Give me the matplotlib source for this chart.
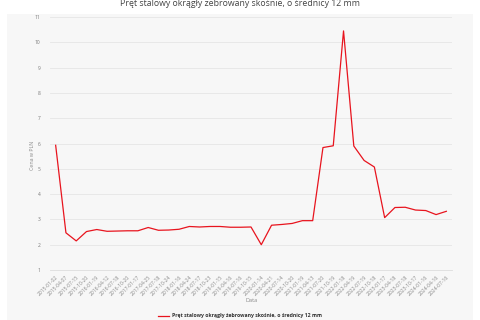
import matplotlib
matplotlib.use("Agg")
import matplotlib.pyplot as plt

dates = [
    "2015-01-02", "2015-04-07", "2015-07-15", "2015-10-20", "2016-01-19",
    "2016-04-12", "2016-07-18", "2016-10-20", "2017-01-17", "2017-04-25",
    "2017-07-18", "2017-10-24", "2018-01-16", "2018-04-24", "2018-07-17",
    "2018-10-23", "2019-01-15", "2019-04-16", "2019-07-16", "2019-10-15",
    "2020-01-14", "2020-04-21", "2020-07-14", "2020-10-20", "2021-01-19",
    "2021-04-13", "2021-07-20", "2021-10-19", "2022-01-18", "2022-04-19",
    "2022-07-19", "2022-10-18", "2023-01-17", "2023-04-18", "2023-07-18",
    "2023-10-17", "2024-01-16", "2024-04-16", "2024-07-16",
]
prices = [
    5.93, 2.47, 2.15, 2.52, 2.60, 2.53, 2.54, 2.55, 2.55, 2.68,
    2.57, 2.58, 2.61, 2.72, 2.70, 2.72, 2.72, 2.69, 2.69, 2.70,
    2.00, 2.77, 2.80, 2.84, 2.95, 2.95, 5.84, 5.91, 10.45, 5.90,
    5.33, 5.07, 3.07, 3.47, 3.48, 3.37, 3.35, 3.19, 3.32,
]
series_name = "Pręt stalowy okrągły żebrowany skośnie, o średnicy 12 mm"
title = "Pręt stalowy okrągły żebrowany skośnie, o średnicy 12 mm"
yticks = list(range(1, 12))

plt.rcParams['font.family'] = ['Open Sans', 'DejaVu Sans']

fig = plt.figure(figsize=(4.8, 3.2), dpi=100)
fig.patch.set_facecolor('white')
# gray panel
panel = fig.add_axes([7/480, 0, 466/480, 1 - 14/320])
panel.set_facecolor('#f7f7f7')
panel.set_xticks([]); panel.set_yticks([])
for s in panel.spines.values():
    s.set_visible(False)
panel.set_zorder(0)

ax = fig.add_axes([50/480, 1 - 270/320, 402/480, 253/320])
ax.set_zorder(1)
ax.patch.set_alpha(0)
x = list(range(len(dates)))
line, = ax.plot(x, prices, color='#e8141e', lw=0.9, label=series_name)
ax.set_xlim(-0.55, len(dates) - 0.45)
ax.set_ylim(1, 11)
ax.set_yticks(yticks)
ax.set_yticklabels([str(v) for v in yticks], fontsize=3.5, color='#777777')
ax.set_xticks(x)
ax.set_xticklabels(dates, rotation=45, ha='right', rotation_mode='anchor',
                   fontsize=3.6, color='#888888')
ax.tick_params(axis='x', length=0, pad=3)
ax.tick_params(axis='y', length=0, pad=7)
ax.grid(axis='y', color='#e6e6e6', lw=0.6)
ax.set_axisbelow(True)
for s in ['top', 'right', 'left']:
    ax.spines[s].set_visible(False)
ax.spines['bottom'].set_color('#dddddd')
ax.spines['bottom'].set_linewidth(0.6)

fig.text(33/480, 1 - 155/320, "Cena w PLN", rotation=90, fontsize=3.8,
         color='#888888', ha='center', va='center')
fig.text(252/480, 1 - 301/320, "Data", fontsize=4, color='#888888',
         ha='center', va='center')
fig.text(240/480, 1 - 3/320, title, fontsize=6.3, color='#444444',
         ha='center', va='center')

leg = fig.legend(handles=[line], loc='center', bbox_to_anchor=(240/480, 1 - 316/320),
                 frameon=False, prop={'size': 3.7, 'weight': 'bold'},
                 handlelength=2.0, handletextpad=0.6)
for t in leg.get_texts():
    t.set_color('#333333')

fig.savefig("out.png", dpi=100, facecolor='white')
